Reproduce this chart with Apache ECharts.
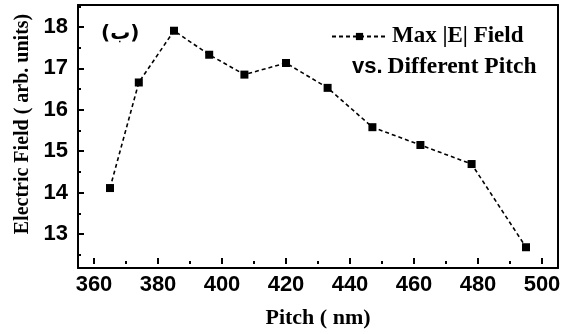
<!DOCTYPE html>
<html>
<head>
<meta charset="utf-8">
<script src="https://cdn.jsdelivr.net/npm/echarts@6/dist/echarts.min.js"></script>
<style>
  html, body { margin: 0; padding: 0; background: #fff; }
  #chart { width: 568px; height: 334px; }
</style>
</head>
<body>
<div id="chart"></div>
<script>
// values
const pitch = [365, 374, 385, 396, 407, 420, 433, 447, 462, 478, 495];
const field = [14.11, 16.66, 17.91, 17.33, 16.85, 17.13, 16.53, 15.58, 15.15, 14.69, 12.68];
// axis ranges: full plot box, and the tick spans drawn on helper axes
const xRange = [355, 505];
const xTickSpan = [360, 500];
const yRange = [12.1787, 18.5314];
const yTickSpan = [13, 18];
const yMinorSpan = [12.5, 18.5];

const serif = '"Liberation Serif", "DejaVu Serif", serif';
const sans = '"Liberation Sans", Arial, sans-serif';
const black = '#000';

// plot box in pixels
const L = 78, R = 10, T = 5, B = 66;
const W = 568 - L - R, H = 334 - T - B;
const xPx = v => L + (v - xRange[0]) / (xRange[1] - xRange[0]) * W;
const yPx = v => T + (yRange[1] - v) / (yRange[1] - yRange[0]) * H;

const chart = echarts.init(document.getElementById('chart'));

const hidden = { show: false };
const tickLine = { color: black, width: 2 };
const frameLine = { show: true, onZero: false, lineStyle: { color: black, width: 2 } };

chart.setOption({
  animation: false,
  grid: [
    { left: L, right: R, top: T, bottom: B },
    // x tick helper: spans 360..500
    { left: xPx(xTickSpan[0]), right: 568 - xPx(xTickSpan[1]), top: T, bottom: B },
    // y major tick helper: spans 13..18
    { left: L, right: R, top: yPx(yTickSpan[1]), bottom: 334 - yPx(yTickSpan[0]) },
    // y minor tick helper: spans 12.5..18.5
    { left: L, right: R, top: yPx(yMinorSpan[1]), bottom: 334 - yPx(yMinorSpan[0]) }
  ],
  title: [
    { text: '(ب)', left: 96, top: 19, textStyle: { fontFamily: '"DejaVu Sans", sans-serif', fontSize: 20, fontWeight: 'bold', color: black } },
    {
      text: '{a|vs.} {b|Different Pitch}', left: 347, top: 50,
      textStyle: {
        rich: {
          a: { fontFamily: sans, fontSize: 22, fontWeight: 'bold', color: black },
          b: { fontFamily: serif, fontSize: 23.5, fontWeight: 'bold', color: black }
        }
      }
    }
  ],
  legend: {
    left: 326, top: 20, itemWidth: 55, itemHeight: 9, itemGap: 0,
    textStyle: { fontFamily: serif, fontSize: 23, fontWeight: 'bold', color: black },
    data: ['Max |E| Field']
  },
  xAxis: [
    {
      gridIndex: 0, type: 'value', min: xRange[0], max: xRange[1], position: 'bottom',
      splitLine: hidden, axisTick: hidden, axisLabel: hidden, axisLine: frameLine
    },
    {
      gridIndex: 0, type: 'value', min: xRange[0], max: xRange[1], position: 'top',
      splitLine: hidden, axisTick: hidden, axisLabel: hidden, axisLine: frameLine
    },
    {
      gridIndex: 1, type: 'value', min: xTickSpan[0], max: xTickSpan[1], interval: 20, z: 10,
      splitLine: hidden, axisLine: { show: false },
      name: 'Pitch ( nm)', nameLocation: 'middle', nameGap: 43,
      nameTextStyle: { fontFamily: serif, fontSize: 22, fontWeight: 'bold', color: black },
      axisTick: { show: true, inside: true, length: 6, lineStyle: tickLine },
      minorTick: { show: true, splitNumber: 2, length: 3, lineStyle: tickLine },
      axisLabel: { margin: 10, fontFamily: sans, fontSize: 22, fontWeight: 'bold', color: black }
    },
    { gridIndex: 2, type: 'value', show: false },
    { gridIndex: 3, type: 'value', show: false }
  ],
  yAxis: [
    {
      gridIndex: 0, type: 'value', min: yRange[0], max: yRange[1], position: 'left',
      splitLine: hidden, axisTick: hidden, axisLabel: hidden, axisLine: frameLine
    },
    {
      gridIndex: 0, type: 'value', min: yRange[0], max: yRange[1], position: 'right',
      splitLine: hidden, axisTick: hidden, axisLabel: hidden, axisLine: frameLine
    },
    { gridIndex: 1, type: 'value', show: false },
    {
      gridIndex: 2, type: 'value', min: yTickSpan[0], max: yTickSpan[1], interval: 1, z: 10,
      splitLine: hidden, axisLine: { show: false },
      name: 'Electric Field ( arb. units)', nameLocation: 'middle', nameGap: 43,
      nameTextStyle: { fontFamily: serif, fontSize: 20, fontWeight: 'bold', color: black, padding: [0, 0, 0, 13] },
      axisTick: { show: true, inside: true, length: 6, lineStyle: tickLine },
      axisLabel: { margin: 10, fontFamily: sans, fontSize: 22, fontWeight: 'bold', color: black }
    },
    {
      gridIndex: 3, type: 'value', min: yMinorSpan[0], max: yMinorSpan[1], interval: 0.5, z: 10,
      splitLine: hidden, axisLine: { show: false }, axisLabel: hidden,
      axisTick: { show: true, inside: true, length: 3, lineStyle: tickLine }
    }
  ],
  series: [{
    name: 'Max |E| Field',
    type: 'line',
    xAxisIndex: 0, yAxisIndex: 0,
    data: pitch.map((p, i) => [p, field[i]]),
    symbol: 'rect', symbolSize: 8,
    itemStyle: { color: black },
    lineStyle: { color: black, width: 1.6, type: [4, 3] }
  }]
});
</script>
</body>
</html>
